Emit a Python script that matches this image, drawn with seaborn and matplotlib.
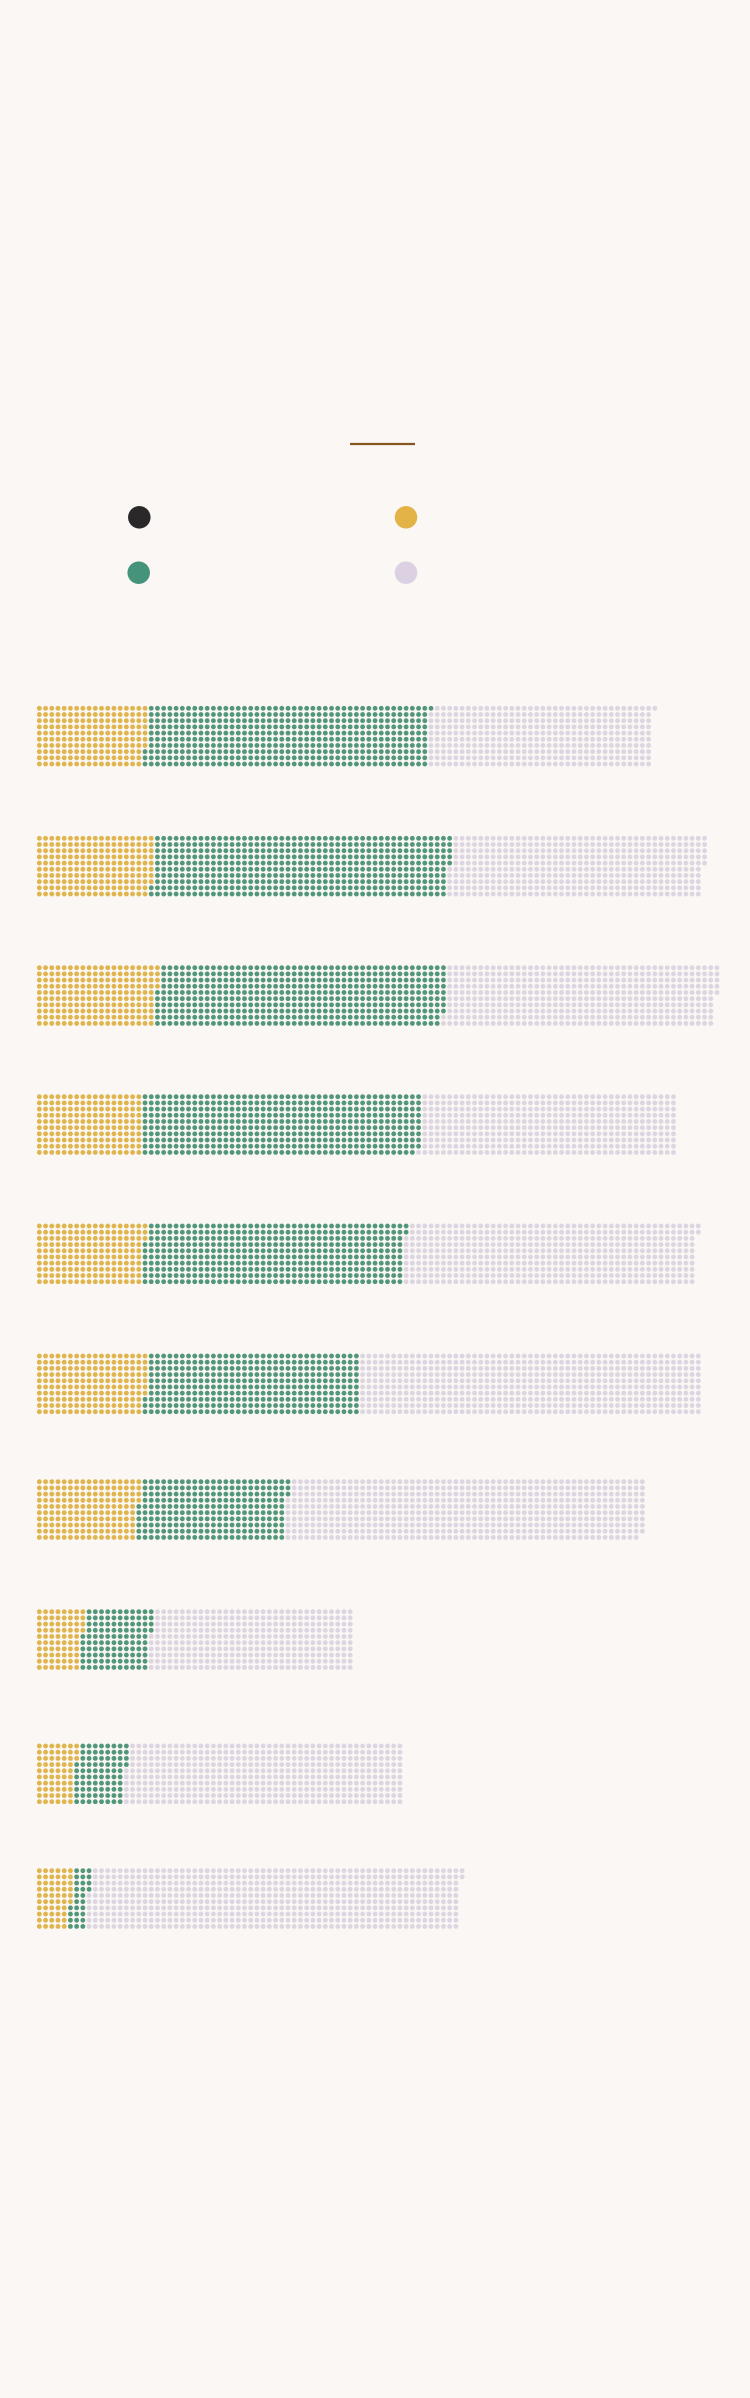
import numpy as np
import pandas as pd
import matplotlib
matplotlib.use("Agg")
import matplotlib.pyplot as plt
import seaborn as sns

# dot counts per bar (one dot per unit, filled column by column, 10 per column)
groups = ["g1", "g2", "g3", "g4", "g5", "g6", "g7", "g8", "g9", "g10"]
yellow_counts = [177, 188, 194, 170, 173, 177, 164, 74, 63, 56]
green_counts = [454, 477, 464, 449, 419, 343, 239, 110, 81, 28]
grey_counts = [360, 410, 437, 411, 470, 550, 576, 326, 446, 598]
segments = ["yellow", "green", "grey"]

# legend keys (labels are not visible in the reference)
legend_keys = ["black", "yellow", "green", "lavender"]

BG = "#faf7f4"
bar_palette = {"yellow": "#e0b54e", "green": "#52977a", "grey": "#ddd5e1"}
legend_palette = {"black": "#2a2828", "yellow": "#e3b348",
                  "green": "#45937a", "lavender": "#dbd1e2"}

W, H = 750, 2398
COL_STEP = 6.217
ROW_STEP = 6.19
X0 = 39.33
N_ROWS = 10
N_COLS = 112
group_tops = [708.3, 838.3, 967.7, 1096.7, 1226, 1356, 1481.7, 1611.7, 1746, 1870.7]

sns.set_theme(style="white")
plt.rcParams["font.family"] = ["DejaVu Sans"]

fig = plt.figure(figsize=(W / 100, H / 100), dpi=100, facecolor=BG)

# header area: short rule and legend dots, drawn in pixel space
top_ax = fig.add_axes([0, 0, 1, 1])
top_ax.set_xlim(0, W)
top_ax.set_ylim(H, 0)
top_ax.axis("off")
top_ax.set_facecolor(BG)
top_ax.plot([350, 415], [443.7, 443.7], color="#85561f", lw=1.6,
            solid_capstyle="butt")

leg_df = pd.DataFrame({
    "key": legend_keys,
    "x": [139.3, 406, 138.7, 406],
    "y": [517.3, 517.3, 572.7, 572.7],
})
sns.scatterplot(data=leg_df, x="x", y="y", hue="key", palette=legend_palette,
                s=262, linewidth=0, legend=False, ax=top_ax)
top_ax.set_xlim(0, W)
top_ax.set_ylim(H, 0)


def dots_frame(counts):
    cats = np.repeat(segments, counts)
    k = np.arange(len(cats))
    return pd.DataFrame({"col": k // N_ROWS, "row": k % N_ROWS, "seg": cats})


for i, g in enumerate(groups):
    df = dots_frame([yellow_counts[i], green_counts[i], grey_counts[i]])
    left = X0 - 0.5 * COL_STEP
    top = group_tops[i] - 0.5 * ROW_STEP
    width = N_COLS * COL_STEP
    height = N_ROWS * ROW_STEP
    ax = fig.add_axes([left / W, 1 - (top + height) / H, width / W, height / H])
    ax.patch.set_alpha(0)
    sns.scatterplot(data=df, x="col", y="row", hue="seg", palette=bar_palette,
                    s=12, linewidth=0, legend=False, ax=ax)
    ax.set_xlim(-0.5, N_COLS - 0.5)
    ax.set_ylim(N_ROWS - 0.5, -0.5)
    ax.axis("off")

fig.savefig("out.png", dpi=100, facecolor=BG)
